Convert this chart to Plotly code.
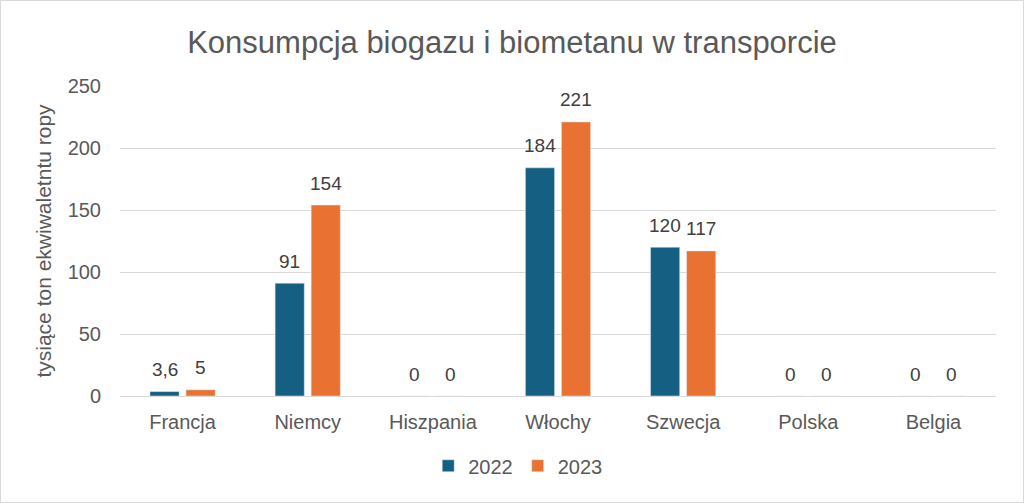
import plotly.graph_objects as go

categories = ["Francja", "Niemcy", "Hiszpania", "Włochy", "Szwecja", "Polska", "Belgia"]
v2022 = [3.6, 91, 0, 184, 120, 0, 0]
v2023 = [5, 154, 0, 221, 117, 0, 0]
series_names = ["2022", "2023"]
colors = ["#156082", "#E97132"]
y_ticks = [0, 50, 100, 150, 200, 250]

def fmt(v):
    return ("%g" % v).replace(".", ",")

FONT = "Liberation Sans, Arial, sans-serif"
fig = go.Figure()
annotations = []
for i, (name, vals) in enumerate(zip(series_names, [v2022, v2023])):
    fig.add_trace(go.Bar(x=categories, y=vals, name=name, marker_color=colors[i]))
    for c, v in zip(categories, vals):
        annotations.append(dict(x=c, y=v, xref="x", yref="y", text=fmt(v), showarrow=False,
                                xshift=(-18 if i == 0 else 18), yshift=22, yanchor="middle",
                                font=dict(size=19, color="#404040", family=FONT)))

fig.update_layout(
    width=1024, height=503,
    paper_bgcolor="white", plot_bgcolor="white",
    margin=dict(l=120, r=28, t=86, b=107),
    barmode="group", bargap=0.424, bargroupgap=0.19,
    title=dict(text="Konsumpcja biogazu i biometanu w transporcie", x=0.5, xanchor="center",
               y=0.917, yanchor="middle",
               font=dict(size=31, color="#595959", family=FONT)),
    font=dict(family=FONT, color="#595959", size=16),
    legend=dict(orientation="h", x=0.454, xanchor="center", y=-0.225, yanchor="middle",
                font=dict(size=20, color="#595959"), traceorder="normal"),
    showlegend=True,
    annotations=annotations,
    shapes=[dict(type="rect", xref="paper", yref="paper",
                 x0=-120/876, x1=1+28/876, y0=-107/310, y1=1+86/310,
                 line=dict(color="#D9D9D9", width=2))],
)
fig.update_xaxes(showgrid=False, showline=True, linecolor="#D9D9D9", linewidth=1,
                 tickfont=dict(size=20, color="#595959"), ticks="", ticklabelstandoff=8)
fig.update_yaxes(range=[0, 250], tickvals=y_ticks, showgrid=True, gridcolor="#D9D9D9",
                 zeroline=False, showline=False, ticks="",
                 tickfont=dict(size=20, color="#595959"), ticklabelstandoff=18,
                 title=dict(text="tysiące ton ekwiwaletntu ropy", font=dict(size=21, color="#595959"), standoff=10))

fig.write_html("out.html")
